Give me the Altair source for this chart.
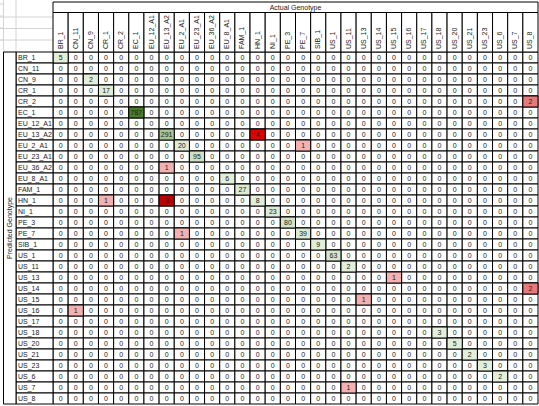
import altair as alt
import pandas as pd

genotypes = ["BR_1", "CN_11", "CN_9", "CR_1", "CR_2", "EC_1", "EU_12_A1", "EU_13_A2",
             "EU_2_A1", "EU_23_A1", "EU_36_A2", "EU_8_A1", "FAM_1", "HN_1", "NI_1", "PE_3",
             "PE_7", "SIB_1", "US_1", "US_11", "US_13", "US_14", "US_15", "US_16", "US_17",
             "US_18", "US_20", "US_21", "US_23", "US_6", "US_7", "US_8"]

# non-zero cells of the confusion matrix
nz_predicted = ["BR_1", "CN_9", "CR_1", "CR_2", "EC_1", "EU_13_A2", "EU_13_A2", "EU_2_A1",
                "EU_2_A1", "EU_23_A1", "EU_36_A2", "EU_8_A1", "FAM_1", "HN_1", "HN_1", "HN_1",
                "NI_1", "PE_3", "PE_7", "PE_7", "SIB_1", "US_1", "US_11", "US_13", "US_14",
                "US_15", "US_16", "US_18", "US_20", "US_21", "US_23", "US_6", "US_7"]
nz_actual = ["BR_1", "CN_9", "CR_1", "US_8", "EC_1", "EU_13_A2", "HN_1", "EU_2_A1",
             "PE_7", "EU_23_A1", "EU_13_A2", "EU_8_A1", "FAM_1", "CR_1", "EU_13_A2", "HN_1",
             "NI_1", "PE_3", "EU_2_A1", "PE_7", "SIB_1", "US_1", "US_11", "US_15", "US_8",
             "US_13", "CN_11", "US_18", "US_20", "US_21", "US_23", "US_6", "US_11"]
nz_count = [5, 2, 17, 2, 787, 291, 4, 20,
            1, 95, 1, 6, 27, 1, 3, 8,
            23, 80, 1, 39, 9, 63, 2, 1, 2,
            1, 1, 3, 5, 2, 3, 2, 1]

lookup = {(p, a): c for p, a, c in zip(nz_predicted, nz_actual, nz_count)}
rows = []
for p in genotypes:
    for a in genotypes:
        c = lookup.get((p, a), 0)
        rows.append({"predicted": p, "actual": a, "count": c,
                     "kind": "diag" if p == a else "off"})
df = pd.DataFrame(rows)
cols_df = pd.DataFrame({"actual": genotypes})
rows_df = pd.DataFrame({"predicted": genotypes})
title_df = pd.DataFrame({"label": ["Actual Genotype"]})
ytitle_df = pd.DataFrame({"label": ["Predicted Genotype"]})

FONT = "Liberation Sans"
FS = 7
INK = "#222222"

xs = alt.Scale(domain=genotypes, paddingInner=0, paddingOuter=0)
ys = alt.Scale(domain=genotypes, paddingInner=0, paddingOuter=0)
X = alt.X("actual:N", scale=xs, axis=None)
Y = alt.Y("predicted:N", scale=ys, axis=None)

# faint spreadsheet gridlines in the empty top-left corner
sheet_h = pd.DataFrame({"k": [0, 1, 2, 3]})
sheet_v = pd.DataFrame({"k": [0, 1]})
grid_h = alt.Chart(sheet_h).transform_calculate(
    yy="-48 + datum.k * 12"
).mark_rule(color="#d4d4d4", strokeWidth=1).encode(
    x=alt.value(-53), x2=alt.value(-50), y=alt.Y("yy:Q", scale=None, axis=None)
)
grid_h2 = alt.Chart(sheet_h).transform_calculate(
    yy="-35 + datum.k * 11.5"
).transform_filter("datum.k < 3").mark_rule(color="#d4d4d4", strokeWidth=1).encode(
    x=alt.value(-53), x2=alt.value(0), y=alt.Y("yy:Q", scale=None, axis=None)
)
grid_v = alt.Chart(sheet_v).transform_calculate(
    xx="-49.5 + datum.k * 12.5"
).mark_rule(color="#d4d4d4", strokeWidth=1).encode(
    x=alt.X("xx:Q", scale=None, axis=None), y=alt.value(-52), y2=alt.value(0)
)

base_cells = alt.Chart(df).mark_rect(fill="white", stroke="black", strokeWidth=1).encode(x=X, y=Y)

green = alt.Chart(df).transform_filter(
    "datum.kind == 'diag' && datum.count > 0"
).mark_rect(stroke="black", strokeWidth=1).encode(
    x=X, y=Y,
    color=alt.Color("count:Q", scale=alt.Scale(domain=[2, 787], range=["#e2efda", "#4a7c2a"]), legend=None),
)

red = alt.Chart(df).transform_filter(
    "datum.kind == 'off' && datum.count > 0"
).mark_rect(stroke="black", strokeWidth=1).encode(
    x=X, y=Y,
    fill=alt.Fill("count:O", scale=alt.Scale(domain=[1, 2, 3, 4],
                                              range=["#f4b1b1", "#e8797b", "#c00000", "#e00000"]), legend=None),
)

values = alt.Chart(df).mark_text(font=FONT, fontSize=FS, color=INK, baseline="middle").encode(
    x=X, y=Y, text="count:Q"
)

col_cells = alt.Chart(cols_df).mark_rect(fill="white", stroke="black", strokeWidth=1).encode(
    x=X, y=alt.value(-39.5), y2=alt.value(0)
)
col_text = alt.Chart(cols_df).mark_text(font=FONT, fontSize=FS, angle=270, align="left",
                                        baseline="middle", color=INK).encode(
    x=X, y=alt.value(-3), text="actual:N"
)

row_cells = alt.Chart(rows_df).mark_rect(fill="white", stroke="black", strokeWidth=1).encode(
    y=Y, x=alt.value(-37), x2=alt.value(0)
)
row_text = alt.Chart(rows_df).mark_text(font=FONT, fontSize=FS, align="left",
                                        baseline="middle", color=INK).encode(
    y=Y, x=alt.value(-35), text="predicted:N"
)

title_box = alt.Chart(title_df).mark_rect(fill="white", stroke="black", strokeWidth=1).encode(
    x=alt.value(0), x2=alt.value("width"), y=alt.value(-50), y2=alt.value(-39.5)
)
title_text = alt.Chart(title_df).mark_text(font=FONT, fontSize=FS, align="center",
                                           baseline="middle", color=INK).encode(
    x=alt.value(242.5), y=alt.value(-44.5), text="label:N"
)

ytitle_box = alt.Chart(ytitle_df).mark_rect(fill="white", stroke="black", strokeWidth=1).encode(
    x=alt.value(-49.5), x2=alt.value(-37), y=alt.value(0), y2=alt.value("height")
)
ytitle_text = alt.Chart(ytitle_df).mark_text(font=FONT, fontSize=FS, angle=270, align="center",
                                             baseline="middle", color=INK).encode(
    x=alt.value(-43.5), y=alt.value(176), text="label:N"
)

chart = alt.layer(
    grid_h, grid_h2, grid_v,
    base_cells, green, red, values,
    col_cells, col_text, row_cells, row_text,
    title_box, title_text, ytitle_box, ytitle_text,
).resolve_scale(color="independent", fill="independent").properties(
    width=485, height=352,
    padding={"left": 53, "top": 52, "right": 1, "bottom": 2},
    autosize="none",
    background="white",
).configure_view(strokeWidth=0)

chart.save("out.html", embed_options={"renderer": "svg", "actions": False})
